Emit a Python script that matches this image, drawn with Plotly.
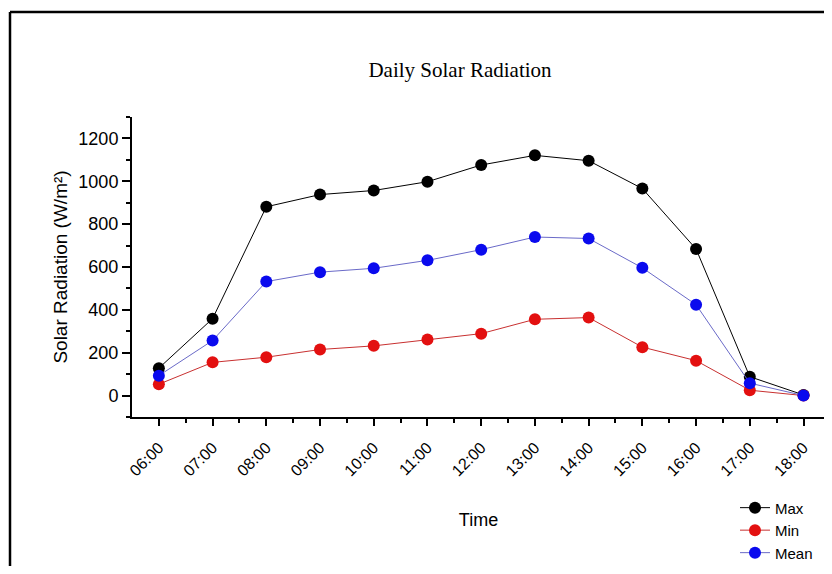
import plotly.graph_objects as go

times = ["06:00", "07:00", "08:00", "09:00", "10:00", "11:00", "12:00",
         "13:00", "14:00", "15:00", "16:00", "17:00", "18:00"]
max_vals = [128, 359, 881, 938, 957, 998, 1076, 1121, 1096, 966, 684, 88, 3]
min_vals = [53, 155, 179, 215, 232, 262, 289, 356, 364, 226, 163, 25, 0]
mean_vals = [93, 257, 532, 576, 594, 631, 681, 740, 733, 596, 424, 58, 0]

x_idx = list(range(len(times)))

series = [
    ("Max", max_vals, "#000000", "#000000"),
    ("Min", min_vals, "#e31010", "#c83030"),
    ("Mean", mean_vals, "#0a0aee", "#6a6ac8"),
]

# the page body has an 8px margin, so the figure is placed 8px in from the window edge
W, H = 824, 558
L, T = 124, 109
PW, PH = 693, 300

fig = go.Figure()
for name, vals, mcol, lcol in series:
    fig.add_trace(go.Scatter(
        x=x_idx, y=vals, name=name, mode="lines+markers",
        line=dict(color=lcol, width=1),
        marker=dict(color=mcol, size=12),
    ))

fig.update_layout(
    width=W, height=H,
    margin=dict(l=L, r=W - L - PW, t=T, b=H - T - PH, autoexpand=False),
    paper_bgcolor="white", plot_bgcolor="white",
    title=dict(text="Daily Solar Radiation", x=(460 - 8) / W, xanchor="center",
               y=1 - (70 - 8) / H, yanchor="middle",
               font=dict(family="Liberation Serif", size=21, color="black")),
    font=dict(family="Liberation Sans", color="black"),
    legend=dict(x=(727 - L) / PW, y=-0.248, xanchor="left", yanchor="top",
                font=dict(family="Liberation Sans", size=15, color="black"),
                bgcolor="rgba(0,0,0,0)", tracegroupgap=0, itemwidth=30),
    showlegend=True,
)

fig.update_xaxes(
    range=[-0.5, 12.4], tickmode="array", tickvals=x_idx, ticktext=times,
    tickangle=-45, ticks="outside", ticklen=7, tickwidth=2, tickcolor="black",
    ticklabelstandoff=6,
    showline=True, linecolor="black", linewidth=2, showgrid=False, zeroline=False,
    tickfont=dict(family="Liberation Sans", size=16, color="black"),
    minor=dict(tickmode="array", tickvals=[i + 0.5 for i in range(12)],
               ticks="outside", ticklen=4, tickwidth=2, tickcolor="black", showgrid=False),
    title=dict(text="Time", font=dict(family="Liberation Sans", size=18, color="black"),
               standoff=35),
)
fig.update_yaxes(
    range=[-100, 1300], tickmode="linear", tick0=0, dtick=200,
    ticks="outside", ticklen=8, tickwidth=2, tickcolor="black",
    showline=True, linecolor="black", linewidth=2, showgrid=False, zeroline=False,
    tickfont=dict(family="Liberation Sans", size=18, color="black"),
    minor=dict(tickmode="linear", tick0=-100, dtick=200, ticks="outside", ticklen=4,
               tickwidth=2, tickcolor="black", showgrid=False),
    title=dict(text="Solar Radiation (W/m²)",
               font=dict(family="Liberation Sans", size=19, color="black"), standoff=6),
)

# outer frame of the figure: left and top edges (the others run off the page)
fx0 = (2 - L) / PW
fx1 = (W + 20 - L) / PW
fy_top = (T + PH - 4) / PH
fy_bot = (T + PH - (H + 20)) / PH
fig.add_shape(type="line", xref="paper", yref="paper", x0=fx0, x1=fx0, y0=fy_bot, y1=fy_top,
              line=dict(color="black", width=2.5), layer="below")
fig.add_shape(type="line", xref="paper", yref="paper", x0=fx0, x1=fx1, y0=fy_top, y1=fy_top,
              line=dict(color="black", width=2.5), layer="below")

fig.write_html("out.html")
